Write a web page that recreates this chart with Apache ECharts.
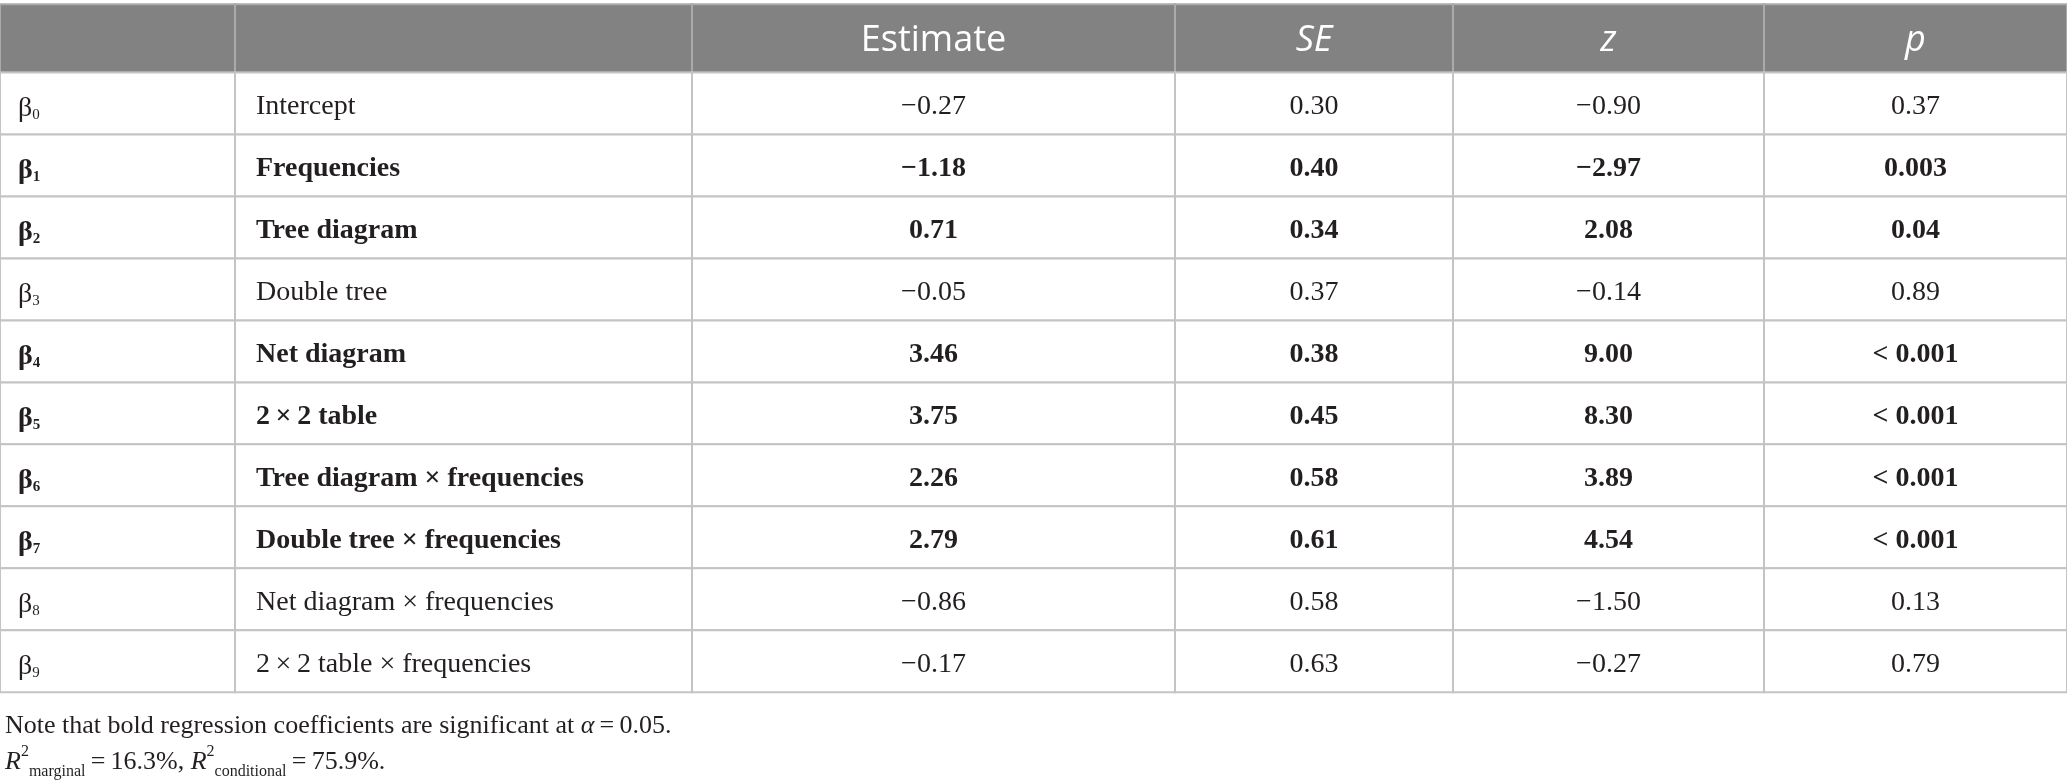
<!DOCTYPE html>
<html><head><meta charset="utf-8">
<script src="https://cdn.jsdelivr.net/npm/echarts@6/dist/echarts.min.js"></script>
<style>html,body{margin:0;padding:0;background:#fff}#c{width:2067px;height:783px}</style>
</head><body><div id="c"></div>
<script>
// ---- data ----
const headers = ['', '', 'Estimate', 'SE', 'z', 'p'];
const headerItalic = [false, false, false, true, true, true];
const paramIndex = [0, 1, 2, 3, 4, 5, 6, 7, 8, 9];
const terms = ['Intercept', 'Frequencies', 'Tree diagram', 'Double tree', 'Net diagram',
  '2\u2009×\u20092 table', 'Tree diagram × frequencies', 'Double tree × frequencies',
  'Net diagram × frequencies', '2\u2009×\u20092 table × frequencies'];
const estimates = [-0.27, -1.18, 0.71, -0.05, 3.46, 3.75, 2.26, 2.79, -0.86, -0.17];
const seValues = [0.30, 0.40, 0.34, 0.37, 0.38, 0.45, 0.58, 0.61, 0.58, 0.63];
const zValues = [-0.90, -2.97, 2.08, -0.14, 9.00, 8.30, 3.89, 4.54, -1.50, -0.27];
const pValues = ['0.37', '0.003', '0.04', '0.89', '< 0.001', '< 0.001', '< 0.001', '< 0.001', '0.13', '0.79'];
const significant = [false, true, true, false, true, true, true, true, false, false];

// ---- layout ----
const COL_EDGES = [0, 235, 692, 1175, 1453, 1764, 2067];
const HEADER_TOP = -1.1;
const SERIF = '"Liberation Serif", "DejaVu Serif", serif';
const SANS = '"Open Sans", "Noto Sans", sans-serif';
const INK = '#231f20';

const fmt = v => (v < 0 ? '\u2212' : '') + Math.abs(v).toFixed(2);

function cellText(c, r) {
  if (r < 0) return headers[c];
  switch (c) {
    case 0: return '';
    case 1: return terms[r];
    case 2: return fmt(estimates[r]);
    case 3: return fmt(seValues[r]);
    case 4: return fmt(zValues[r]);
    case 5: return pValues[r];
  }
}

const cells = [];
for (let r = -1; r < terms.length; r++) {
  for (let c = 0; c < COL_EDGES.length - 1; c++) cells.push([COL_EDGES[c], r, c]);
}

function renderItem(params, api) {
  const x0 = api.value(0), r = api.value(1), c = api.value(2);
  const x1 = COL_EDGES[c + 1];
  const yTop = r < 0 ? HEADER_TOP : r;
  const p0 = api.coord([x0, yTop]);
  const p1 = api.coord([x1, r + 1]);
  const isHeader = r < 0;
  const left = p0[0], right = p1[0], top = p0[1], bottom = p1[1];
  const children = [];
  children.push({
    type: 'rect', shape: { x: left, y: top, width: right - left, height: bottom - top },
    style: { fill: isHeader ? '#818281' : '#ffffff', stroke: isHeader ? '#a9aaa9' : '#c4c4c4', lineWidth: 2 }
  });
  const cy = (top + bottom) / 2;
  if (isHeader) {
    if (headers[c]) children.push({
      type: 'text', style: {
        text: headers[c], x: (left + right) / 2, y: cy + 2, align: 'center', verticalAlign: 'middle',
        fontFamily: SANS, fontSize: 36, fontStyle: headerItalic[c] ? 'italic' : 'normal', fill: '#ffffff'
      }
    });
  } else {
    const bold = significant[r];
    const fw = bold ? 'bold' : 'normal';
    if (c === 0) {
      children.push({
        type: 'text', style: {
          text: '{b|β}{s|' + paramIndex[r] + '}', x: left + 18, y: cy + 3, align: 'left', verticalAlign: 'middle',
          rich: {
            b: { fontFamily: SERIF, fontSize: 28, fontWeight: fw, fill: INK, lineHeight: 32, verticalAlign: 'bottom' },
            s: { fontFamily: SERIF, fontSize: 15, fontWeight: fw, fill: INK, lineHeight: 16, verticalAlign: 'bottom' }
          }
        }
      });
    } else {
      children.push({
        type: 'text', style: {
          text: cellText(c, r), x: c === 1 ? left + 21 : (left + right) / 2, y: cy + 3,
          align: c === 1 ? 'left' : 'center', verticalAlign: 'middle',
          fontFamily: SERIF, fontSize: 28, fontWeight: fw, fill: INK
        }
      });
    }
  }
  return { type: 'group', children };
}

const chart = echarts.init(document.getElementById('c'), null, { renderer: 'canvas' });
chart.setOption({
  backgroundColor: '#ffffff',
  animation: false,
  grid: { left: 0, right: 0, top: 4.3, height: 688 },
  xAxis: { type: 'value', min: 0, max: COL_EDGES[COL_EDGES.length - 1], show: false },
  yAxis: { type: 'value', min: HEADER_TOP, max: terms.length, inverse: true, show: false },
  title: {
    left: 0, top: 703,
    text: 'Note that bold regression coefficients are significant at {i|α}{n|\u2009=\u20090.05.}\n' +
      '{i|R}{sup|2}{sub|marginal}{n|\u2009=\u200916.3%, }{i|R}{sup|2}{sub|conditional}{n|\u2009=\u200975.9%.}',
    textStyle: {
      fontFamily: SERIF, fontSize: 26, fontWeight: 'normal', color: INK, lineHeight: 36,
      rich: {
        n: { fontFamily: SERIF, fontSize: 26, color: INK, lineHeight: 36 },
        i: { fontFamily: SERIF, fontSize: 26, fontStyle: 'italic', color: INK, lineHeight: 36 },
        sup: { fontFamily: SERIF, fontSize: 16, color: INK, lineHeight: 28, verticalAlign: 'top' },
        sub: { fontFamily: SERIF, fontSize: 16, color: INK, lineHeight: 18, verticalAlign: 'bottom' }
      }
    }
  },
  series: [{
    type: 'custom', renderItem, data: cells, encode: { x: 0, y: 1 }, silent: true
  }]
});
</script></body></html>
